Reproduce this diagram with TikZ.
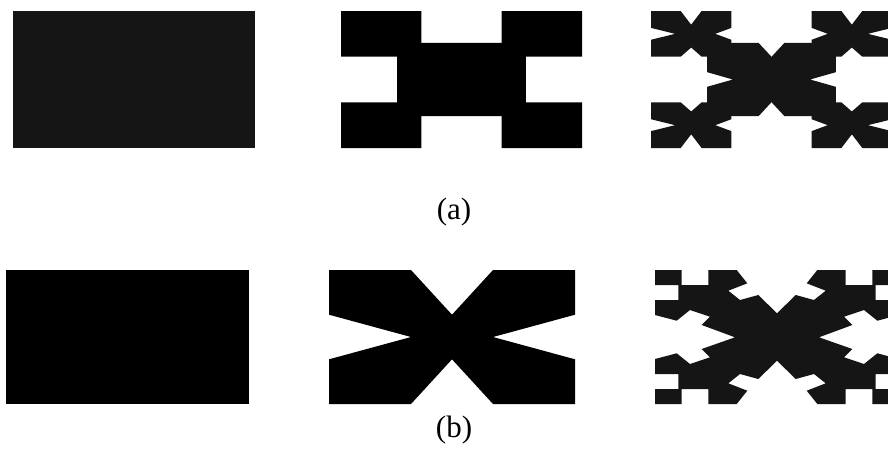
\documentclass[tikz,border=0pt]{standalone}
\usepackage{fontspec}
\setmainfont{Liberation Serif}
\definecolor{dk}{RGB}{21,21,21}
% X shape in the unit box: #1 notch start, #2 top, #3 right, #4 bottom, #5 left notch depth
\newcommand{\xq}[5]{(0,0)--(#1,0)--(0.5,#2)--({1-#1},0)--(1,0)--(1,#1)--({1-#3},0.5)--(1,{1-#1})--(1,1)--({1-#1},1)--(0.5,{1-#4})--(#1,1)--(0,1)--(0,{1-#1})--(#5,0.5)--(0,#1)--cycle}
\begin{document}
\begin{tikzpicture}[x=1pt,y=-1pt,lbl/.style={font=\fontsize{31}{31}\selectfont,inner sep=0pt}]
\useasboundingbox[fill=white] (0,0) rectangle (888,448);
\clip (0,0) rectangle (888,448);
% (a) row
\fill[dk] (13,11) rectangle (255,148);
\fill[black] (341,11)--(421.3,11)--(421.3,42.9)--(501.7,42.9)--(501.7,11)--(582,11)--(582,56.7)--(525.8,56.7)--(525.8,102.3)--(582,102.3)--(582,148)--(501.7,148)--(501.7,116.1)--(421.3,116.1)--(421.3,148)--(341,148)--(341,102.3)--(397.2,102.3)--(397.2,56.7)--(341,56.7)--cycle;
\begin{scope}[shift={(651,11)},x=241pt,y=-137pt]
  \begin{scope}[shift={(0,0)},scale=0.3333]
    \fill[dk] \xq{0.37}{0.3}{0.2}{0.2}{0.3};
  \end{scope}
  \begin{scope}[shift={(0.6667,0)},scale=0.3333]
    \fill[dk] \xq{0.37}{0.3}{0.3}{0.2}{0.2};
  \end{scope}
  \begin{scope}[shift={(0,0.6667)},scale=0.3333]
    \fill[dk] \xq{0.37}{0.2}{0.2}{0.3}{0.3};
  \end{scope}
  \begin{scope}[shift={(0.6667,0.6667)},scale=0.3333]
    \fill[dk] \xq{0.37}{0.2}{0.3}{0.3}{0.2};
  \end{scope}
  \begin{scope}[shift={(0.233,0.233)},scale=0.534]
    \fill[dk] \xq{0.4}{0.19}{0.2}{0.19}{0.2};
  \end{scope}
\end{scope}
\node[lbl] (la) at (454,212) {(a)};
% (b) row
\fill[black] (6,270) rectangle (249,404);
\fill[black] (329,270)--(411,270)--(452,314.7)--(493,270)--(575,270)--(575,314.7)--(493,337)--(575,359.3)--(575,404)--(493,404)--(452,359.3)--(411,404)--(329,404)--(329,359.3)--(411,337)--(329,314.7)--cycle;
\fill[dk] (655,270)--(681.7,270)--(681.7,285)--(708.3,285)--(708.3,270)--(736.7,270)--(747.3,283.3)--(728.3,290.7)--(740,300)--(758.3,295)--(777,313.3)
  --(795.7,295)--(814,300)--(825.7,290.7)--(806.7,283.3)--(817.3,270)--(845.7,270)--(845.7,285)--(872.3,285)--(872.3,270)--(899,270)
  --(899,285)--(875.7,285)--(875.7,300)--(899,300)--(899,315)--(877.3,320.7)--(864,310)--(844,316.7)--(852.3,325)--(819,337.3)
  --(852.3,349)--(844,357.3)--(864,364)--(877.3,353.3)--(899,359)--(899,374)--(875.7,374)--(875.7,389)--(899,389)--(899,404)
  --(872.3,404)--(872.3,389)--(845.7,389)--(845.7,404)--(817.3,404)--(806.7,390.7)--(825.7,383.3)--(814,374)--(795.7,379)--(777,360.7)
  --(758.3,379)--(740,374)--(728.3,383.3)--(747.3,390.7)--(736.7,404)--(708.3,404)--(708.3,389)--(681.7,389)--(681.7,404)--(655,404)
  --(655,389)--(678.3,389)--(678.3,374)--(655,374)--(655,359)--(676.7,353.3)--(690,364)--(710,357.3)--(701.7,349)--(735,337.3)
  --(701.7,325)--(710,316.7)--(690,310)--(676.7,320.7)--(655,315)--(655,300)--(678.3,300)--(678.3,285)--(655,285)--cycle;
\node[lbl] (lb) at (454,430) {(b)};
\end{tikzpicture}
\end{document}
